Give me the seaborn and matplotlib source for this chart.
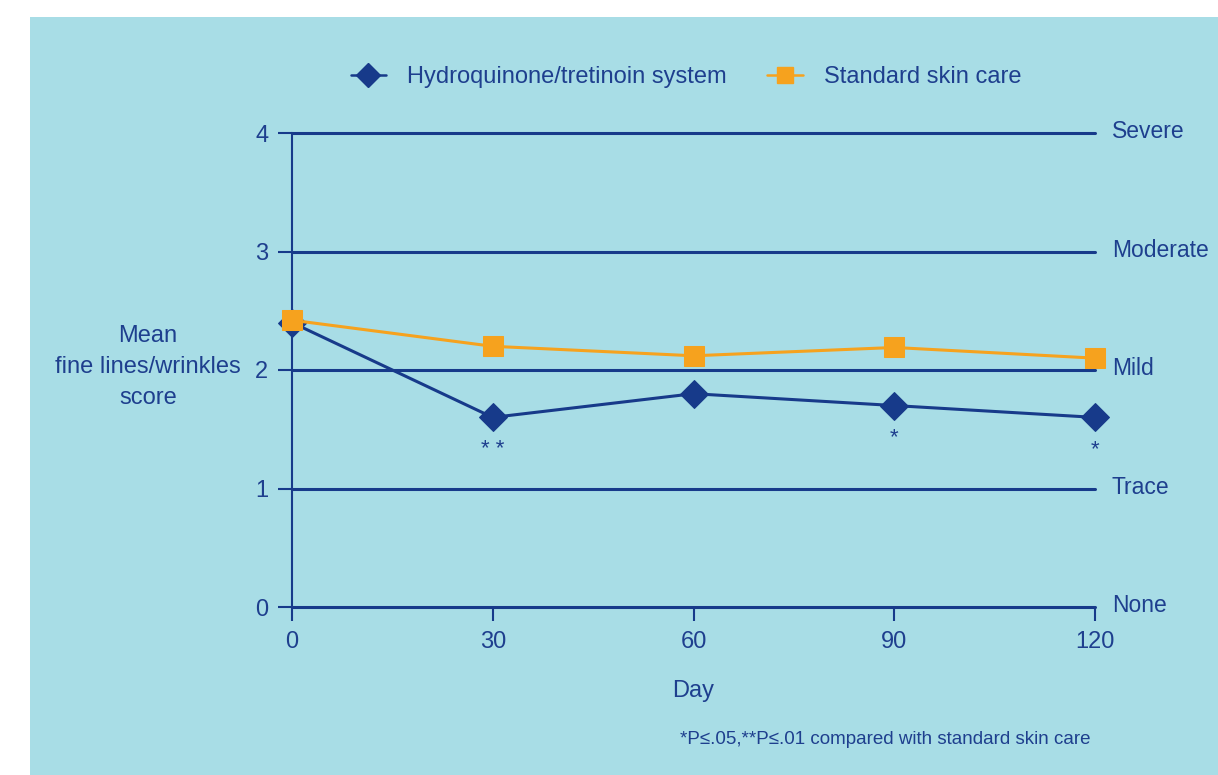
import matplotlib
matplotlib.use("Agg")
import matplotlib.pyplot as plt
import seaborn as sns
import pandas as pd
from matplotlib import font_manager
from matplotlib.lines import Line2D
from matplotlib.patches import Rectangle

days = [0, 30, 60, 90, 120]
hq_scores = [2.4, 1.6, 1.8, 1.7, 1.6]
std_scores = [2.42, 2.2, 2.12, 2.19, 2.1]
series_names = ["Hydroquinone/tretinoin system", "Standard skin care"]
sig_marks = ["", "* *", "", "*", "*"]
severity_labels = ["None", "Trace", "Mild", "Moderate", "Severe"]
y_ticks = [0, 1, 2, 3, 4]

names = {f.name for f in font_manager.fontManager.ttflist}
fam = "Liberation Sans Narrow" if "Liberation Sans Narrow" in names else "Liberation Sans"

sns.set_theme(style="white")
plt.rcParams["font.family"] = [fam, "DejaVu Sans"]

NAVY = "#173a8a"
TXT = "#1e3f8e"
ORANGE = "#f6a21e"
BG = "#a8dde6"

df = pd.DataFrame({
    "Day": days * 2,
    "Score": hq_scores + std_scores,
    "Series": [series_names[0]] * len(days) + [series_names[1]] * len(days),
})

fig = plt.figure(figsize=(12.18, 7.75), dpi=100)
fig.patch.set_facecolor("white")
fig.patches.append(Rectangle((30 / 1218, 0), 1, 1 - 17 / 775, transform=fig.transFigure,
                             facecolor=BG, edgecolor="none", zorder=-10))
ax = fig.add_axes([292 / 1218, 1 - 607 / 775, (1095 - 292) / 1218, (607 - 133) / 775])
ax.set_facecolor("none")

for y in y_ticks:
    ax.axhline(y, color=NAVY, lw=1.5, zorder=1, clip_on=False)

sns.lineplot(data=df, x="Day", y="Score", hue="Series", style="Series",
             palette={series_names[0]: NAVY, series_names[1]: ORANGE},
             markers={series_names[0]: "D", series_names[1]: "s"},
             dashes=False, ax=ax, legend=False, zorder=3, clip_on=False)
for ln in ax.lines:
    c = matplotlib.colors.to_hex(ln.get_color())
    if c == NAVY:
        ln.set_linewidth(2.2); ln.set_markersize(14); ln.set_markeredgecolor(NAVY); ln.set_zorder(3)
    elif c == ORANGE:
        ln.set_linewidth(2.2); ln.set_markersize(14.5); ln.set_markeredgecolor(ORANGE); ln.set_zorder(4)

ax.set_xlim(0, 120)
ax.set_ylim(0, 4)
ax.set_xticks(days)
ax.set_yticks(y_ticks)
ax.tick_params(axis="both", colors=NAVY, labelcolor=TXT, labelsize=17, length=10, width=1.5,
               direction="out", pad=7, bottom=True, left=True)
for s in ["top", "right", "bottom"]:
    ax.spines[s].set_visible(False)
ax.spines["left"].set_color(NAVY)
ax.spines["left"].set_linewidth(1.5)
ax.set_xlabel("Day", fontsize=17, color=TXT, labelpad=20)
ax.set_ylabel("")
fig.text(148 / 1218, 1 - 367 / 775, "Mean\nfine lines/wrinkles\nscore", ha="center", va="center",
         fontsize=17, color=TXT, linespacing=1.55)

for d, v, m in zip(days, hq_scores, sig_marks):
    if m:
        ax.annotate(m, (d, v), xytext=(0, -23), textcoords="offset points", ha="center", va="center",
                    fontsize=16, color=TXT)

for y, lab in zip(y_ticks, severity_labels):
    ax.annotate(lab, (1, y), xycoords=("axes fraction", "data"), xytext=(12, 1),
                textcoords="offset points", ha="left", va="center", fontsize=16.5, color=TXT)

handles = [Line2D([], [], color=NAVY, marker="D", markersize=12.5, lw=1.8),
           Line2D([], [], color=ORANGE, marker="s", markersize=12, lw=1.8)]
leg = fig.legend(handles, series_names, loc="center", bbox_to_anchor=(686 / 1218, 1 - 77 / 775),
                 ncol=2, frameon=False, fontsize=17, handlelength=1.5, columnspacing=1.7,
                 handletextpad=0.9)
for t in leg.get_texts():
    t.set_color(TXT)

fig.text(1090 / 1218, 1 - 740 / 775, "*P≤.05,**P≤.01 compared with standard skin care",
         ha="right", va="center", fontsize=13.5, color=TXT)

fig.savefig("out.png", dpi=100)
